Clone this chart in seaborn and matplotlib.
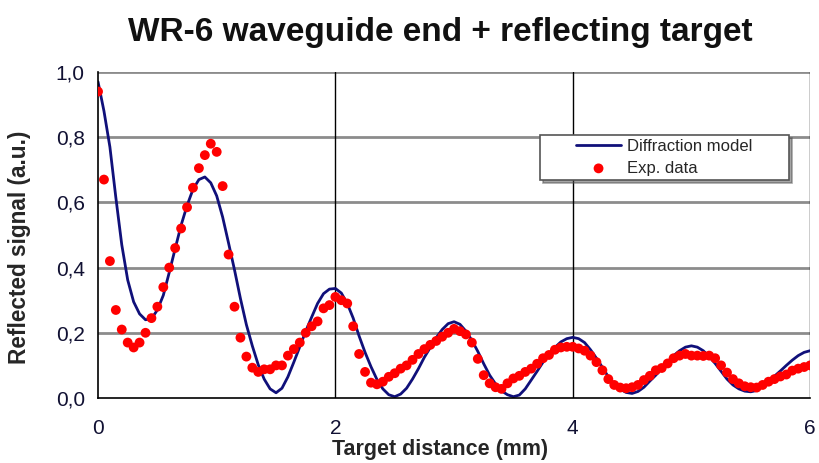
import numpy as np
import pandas as pd
import matplotlib
matplotlib.use("Agg")
import matplotlib.pyplot as plt
import seaborn as sns
from matplotlib.ticker import MultipleLocator, FuncFormatter
from matplotlib.lines import Line2D
from matplotlib.collections import PathCollection
from matplotlib.legend_handler import HandlerLine2D, HandlerPathCollection

distance_mm = [
    0.00, 0.05, 0.10, 0.15, 0.20, 0.25, 0.30, 0.35, 0.40, 0.45, 0.50, 0.55, 0.60, 0.65, 0.70, 0.75, 0.80, 0.85, 0.90, 0.95,
    1.00, 1.05, 1.10, 1.15, 1.20, 1.25, 1.30, 1.35, 1.40, 1.45, 1.50, 1.55, 1.60, 1.65, 1.70, 1.75, 1.80, 1.85, 1.90, 1.95,
    2.00, 2.05, 2.10, 2.15, 2.20, 2.25, 2.30, 2.35, 2.40, 2.45, 2.50, 2.55, 2.60, 2.65, 2.70, 2.75, 2.80, 2.85, 2.90, 2.95,
    3.00, 3.05, 3.10, 3.15, 3.20, 3.25, 3.30, 3.35, 3.40, 3.45, 3.50, 3.55, 3.60, 3.65, 3.70, 3.75, 3.80, 3.85, 3.90, 3.95,
    4.00, 4.05, 4.10, 4.15, 4.20, 4.25, 4.30, 4.35, 4.40, 4.45, 4.50, 4.55, 4.60, 4.65, 4.70, 4.75, 4.80, 4.85, 4.90, 4.95,
    5.00, 5.05, 5.10, 5.15, 5.20, 5.25, 5.30, 5.35, 5.40, 5.45, 5.50, 5.55, 5.60, 5.65, 5.70, 5.75, 5.80, 5.85, 5.90, 5.95,
    6.00,
]

model_signal = [
    0.970, 0.880, 0.770, 0.615, 0.470, 0.362, 0.295, 0.258, 0.240, 0.243, 0.270, 0.315, 0.385, 0.458, 0.530, 0.590, 0.640, 0.670, 0.678, 0.660,
    0.620, 0.555, 0.475, 0.393, 0.305, 0.225, 0.160, 0.102, 0.058, 0.028, 0.016, 0.030, 0.065, 0.110, 0.157, 0.205, 0.248, 0.290, 0.320, 0.334,
    0.336, 0.322, 0.290, 0.245, 0.190, 0.140, 0.096, 0.057, 0.028, 0.010, 0.004, 0.012, 0.030, 0.058, 0.090, 0.125, 0.155, 0.185, 0.210, 0.228,
    0.234, 0.226, 0.205, 0.177, 0.143, 0.105, 0.070, 0.043, 0.022, 0.010, 0.004, 0.009, 0.028, 0.055, 0.082, 0.110, 0.135, 0.155, 0.172, 0.182,
    0.186, 0.182, 0.170, 0.148, 0.122, 0.094, 0.065, 0.042, 0.027, 0.017, 0.014, 0.020, 0.033, 0.052, 0.070, 0.090, 0.110, 0.130, 0.145, 0.156,
    0.160, 0.156, 0.145, 0.127, 0.106, 0.082, 0.058, 0.040, 0.028, 0.021, 0.019, 0.023, 0.035, 0.050, 0.067, 0.083, 0.100, 0.116, 0.130, 0.140,
    0.145,
]

exp_signal = [
    0.940, 0.670, 0.420, 0.270, 0.210, 0.170, 0.155, 0.170, 0.200, 0.245, 0.280, 0.340, 0.400, 0.460, 0.520, 0.585, 0.645, 0.705, 0.745, 0.780,
    0.755, 0.650, 0.440, 0.280, 0.185, 0.127, 0.093, 0.080, 0.088, 0.088, 0.100, 0.100, 0.130, 0.150, 0.170, 0.200, 0.220, 0.235, 0.275, 0.285,
    0.310, 0.300, 0.290, 0.220, 0.135, 0.080, 0.047, 0.042, 0.050, 0.065, 0.076, 0.090, 0.100, 0.117, 0.135, 0.150, 0.163, 0.175, 0.188, 0.200,
    0.212, 0.205, 0.195, 0.170, 0.120, 0.070, 0.045, 0.033, 0.028, 0.045, 0.060, 0.068, 0.080, 0.090, 0.105, 0.122, 0.132, 0.148, 0.155, 0.157,
    0.157, 0.152, 0.145, 0.130, 0.110, 0.085, 0.058, 0.040, 0.032, 0.030, 0.033, 0.040, 0.055, 0.068, 0.085, 0.092, 0.106, 0.122, 0.130, 0.135,
    0.130, 0.130, 0.129, 0.130, 0.122, 0.100, 0.078, 0.058, 0.045, 0.036, 0.033, 0.032, 0.040, 0.050, 0.058, 0.066, 0.072, 0.084, 0.090, 0.095,
    0.100,
]

df = pd.DataFrame({"dist": distance_mm, "model": model_signal, "exp": exp_signal})

sns.set_style("white")
plt.rcParams['font.family'] = ['Liberation Sans', 'DejaVu Sans']

fig = plt.figure(figsize=(8.19, 4.63), dpi=100)
ax = fig.add_axes([0.1197, 0.1404, 0.8694, 0.7041])

# rasterlijnen
for yv in [0.2, 0.4, 0.6, 0.8, 1.0]:
    ax.axhline(yv, color='#8c8c8c', lw=2.0, zorder=0)
for xv in [2, 4, 6]:
    ax.axvline(xv, color='black', lw=1.0, zorder=0)

sns.lineplot(data=df, x="dist", y="model", ax=ax, color='#10107a', lw=2.0,
             label='Diffraction model', zorder=2)
sns.scatterplot(data=df, x="dist", y="exp", ax=ax, color='#ff0000', s=50,
                edgecolor='none', label='Exp. data', zorder=3)

ax.set_xlim(0, 6)
ax.set_ylim(0, 1.0)
ax.xaxis.set_major_locator(MultipleLocator(2))
ax.xaxis.set_minor_locator(MultipleLocator(1))
ax.yaxis.set_major_locator(MultipleLocator(0.2))
ax.yaxis.set_major_formatter(FuncFormatter(lambda v, p: f"{v:.1f}".replace('.', ',')))
ax.tick_params(axis='both', which='major', direction='out', length=6, width=1.0,
               labelsize=15, color='black', labelcolor='#111133')
ax.tick_params(axis='x', which='minor', direction='out', length=4, width=1.0, color='black')
ax.tick_params(axis='x', pad=9)

for side in ['top', 'right']:
    ax.spines[side].set_visible(False)
for side in ['left', 'bottom']:
    ax.spines[side].set_color('black')
    ax.spines[side].set_linewidth(1.2)

fig.text(440 / 819, 1 - 32 / 463, 'WR-6 waveguide end + reflecting target',
         fontsize=24, fontweight='bold', ha='center', va='center', color='#111111')
ax.set_xlabel('Target distance (mm)', fontsize=15.5, fontweight='bold')
ax.set_ylabel('Reflected signal (a.u.)', fontsize=16.3, fontweight='bold')
ax.xaxis.set_label_coords(0.48, -0.125)
ax.yaxis.set_label_coords(-0.094, 0.462)

# legenda: handgrepen wat naar rechts, zoals in het origineel
hmap = {Line2D: HandlerLine2D(xpad=1.9), PathCollection: HandlerPathCollection(xpad=1.9)}
leg = ax.legend(loc='upper left', bbox_to_anchor=(0.621, 0.807), fontsize=12,
                frameon=True, fancybox=False, shadow=True, borderpad=0.25,
                labelspacing=0.4, handlelength=4.6, handletextpad=0.35,
                borderaxespad=0, handler_map=hmap)
for t in leg.get_texts():
    t.set_text(t.get_text() + '       ')
leg.get_frame().set_edgecolor('#555555')
leg.get_frame().set_linewidth(1.2)

fig.savefig("out.png", dpi=100)
